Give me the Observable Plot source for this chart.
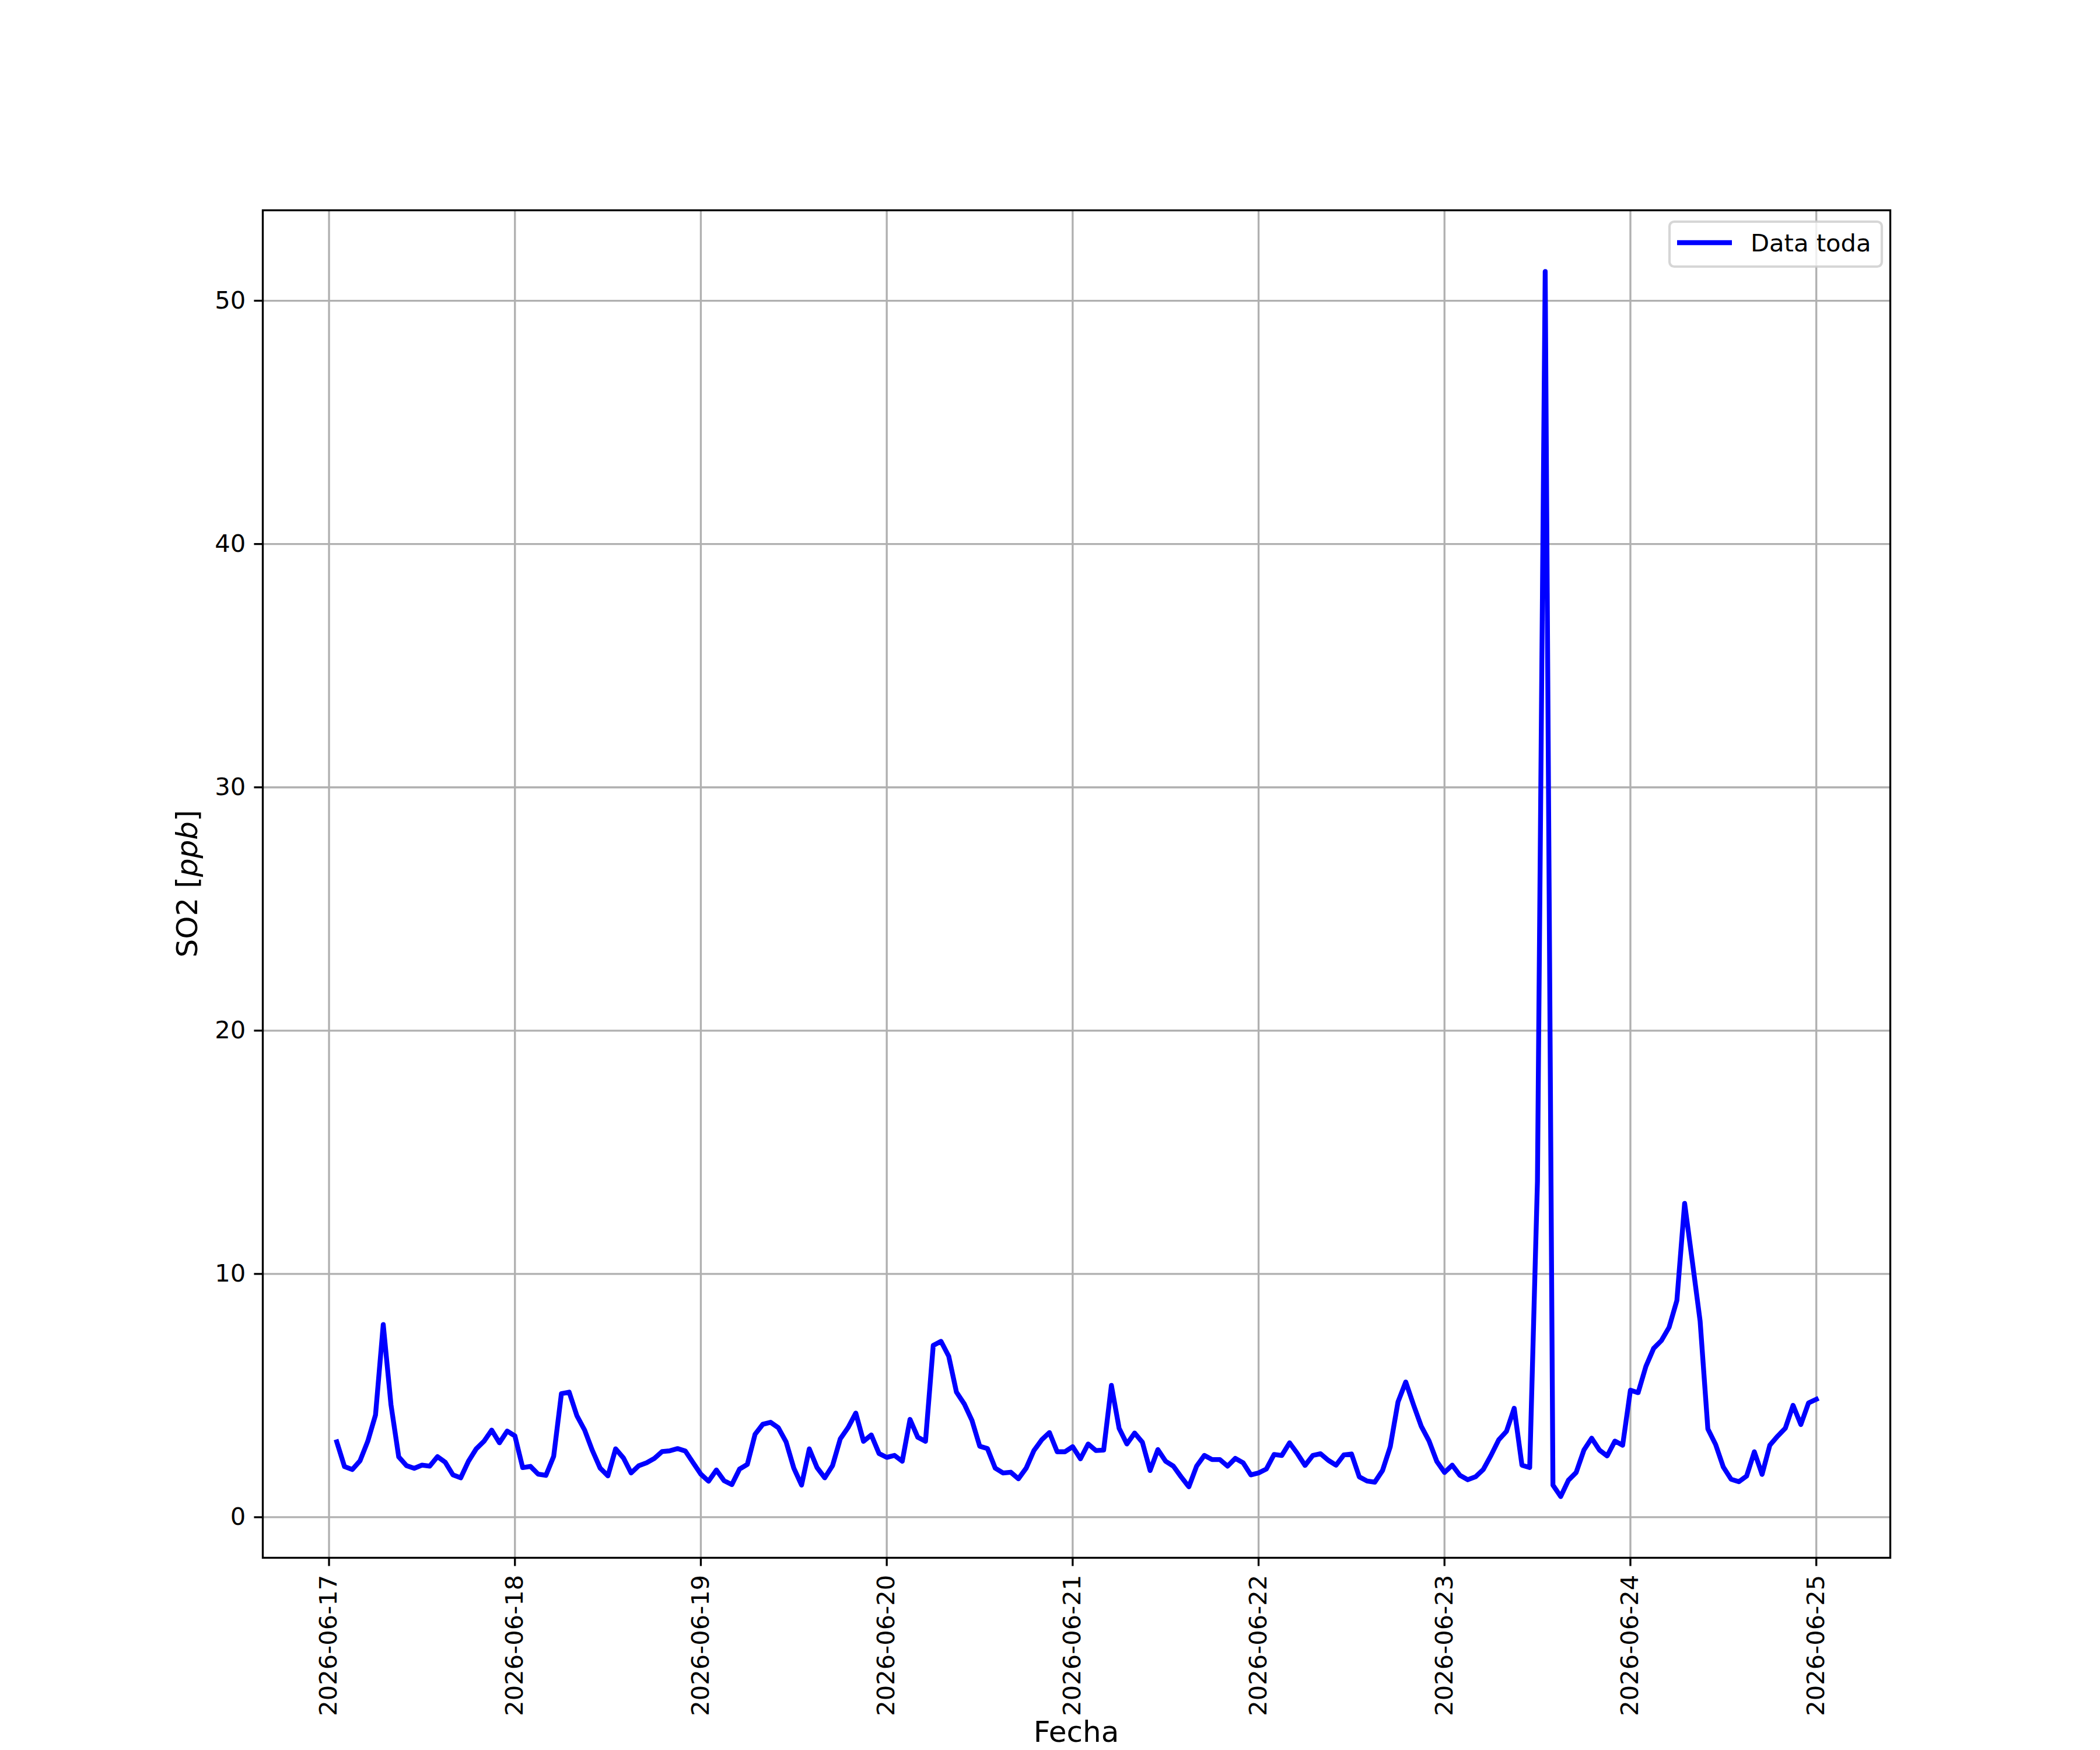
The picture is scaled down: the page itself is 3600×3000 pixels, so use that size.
<!DOCTYPE html>
<html>
<head>
<meta charset="utf-8">
<script src="https://cdn.jsdelivr.net/npm/d3@7"></script>
<script src="https://cdn.jsdelivr.net/npm/@observablehq/plot@0.6"></script>
<style>
  html, body { margin: 0; padding: 0; background: #ffffff; }
  #chart svg { display: block; }
</style>
</head>
<body>
<div id="chart"></div>
<script>
// ---- Data (hourly SO2 readings, ppb) ----
const seriesName = "Data toda";
const startTime = "2026-06-17T01:00:00Z"; // first hourly reading
const so2Day1 = [3.10, 2.08, 1.96, 2.32, 3.12, 4.20, 7.92, 4.62, 2.48, 2.12, 2.01, 2.14, 2.10, 2.49, 2.26, 1.74, 1.62, 2.30, 2.81, 3.12, 3.58, 3.06, 3.54, 3.34];
const so2Day2 = [2.04, 2.09, 1.77, 1.72, 2.50, 5.08, 5.14, 4.17, 3.58, 2.74, 2.02, 1.70, 2.81, 2.44, 1.82, 2.12, 2.24, 2.42, 2.70, 2.73, 2.82, 2.72, 2.24, 1.77];
const so2Day3 = [1.48, 1.94, 1.50, 1.34, 1.98, 2.17, 3.41, 3.82, 3.90, 3.68, 3.10, 2.02, 1.32, 2.81, 2.04, 1.62, 2.12, 3.22, 3.68, 4.28, 3.12, 3.38, 2.62, 2.46];
const so2Day4 = [2.54, 2.30, 4.02, 3.29, 3.12, 7.06, 7.23, 6.62, 5.14, 4.66, 3.98, 2.92, 2.82, 2.02, 1.82, 1.85, 1.58, 2.02, 2.74, 3.18, 3.48, 2.69, 2.69, 2.90];
const so2Day5 = [2.40, 3.01, 2.74, 2.76, 5.42, 3.65, 3.01, 3.46, 3.08, 1.92, 2.78, 2.30, 2.10, 1.66, 1.25, 2.10, 2.54, 2.37, 2.37, 2.10, 2.42, 2.24, 1.74, 1.82];
const so2Day6 = [1.98, 2.58, 2.54, 3.06, 2.62, 2.13, 2.54, 2.61, 2.34, 2.14, 2.56, 2.60, 1.66, 1.49, 1.44, 1.92, 2.90, 4.74, 5.56, 4.62, 3.74, 3.14, 2.30, 1.84];
const so2Day7 = [2.14, 1.72, 1.54, 1.66, 1.96, 2.54, 3.18, 3.53, 4.48, 2.14, 2.04, 13.8, 51.2, 1.32, 0.85, 1.52, 1.84, 2.76, 3.25, 2.76, 2.52, 3.13, 2.96, 5.22];
const so2Day8 = [5.12, 6.20, 6.94, 7.26, 7.81, 8.91, 12.9, 10.5, 8.06, 3.63, 2.99, 2.06, 1.56, 1.46, 1.69, 2.69, 1.76, 2.96, 3.33, 3.66, 4.60, 3.81, 4.70, 4.85];
const tickDates = ["2026-06-17", "2026-06-18", "2026-06-19", "2026-06-20", "2026-06-21", "2026-06-22", "2026-06-23", "2026-06-24", "2026-06-25"];
const yTicks = [0, 10, 20, 30, 40, 50];
const xLabel = "Fecha";
const yLabelParts = ["SO2 [", "ppb", "]"];

// ---- Build table ----
const values = [].concat(so2Day1, so2Day2, so2Day3, so2Day4, so2Day5, so2Day6, so2Day7, so2Day8);
const t0 = new Date(startTime).getTime();
const HOUR = 3600 * 1000;
const data = values.map((v, i) => ({date: new Date(t0 + i * HOUR), value: v}));
const tickDateObjs = tickDates.map(s => new Date(s + "T00:00:00Z"));

// matplotlib-like 5% margins
const xExt = d3.extent(data, d => d.date.getTime());
const xPad = (xExt[1] - xExt[0]) * 0.05;
const yExt = d3.extent(data, d => d.value);
const yPad = (yExt[1] - yExt[0]) * 0.05;

const W = 3600, H = 3000;
const mL = 450, mR = 360, mT = 360, mB = 330;
const fs = 41.67;     // 10pt @ 300dpi
const lw = 3.33;      // 0.8pt
const tick = 14.58;   // 3.5pt

const plot = Plot.plot({
  width: W,
  height: H,
  marginLeft: mL,
  marginRight: mR,
  marginTop: mT,
  marginBottom: mB,
  style: {fontFamily: "'DejaVu Sans', sans-serif", fontSize: fs + "px", background: "#ffffff", color: "#000000"},
  x: {type: "utc", domain: [new Date(xExt[0] - xPad), new Date(xExt[1] + xPad)]},
  y: {domain: [yExt[0] - yPad, yExt[1] + yPad]},
  marks: [
    Plot.gridX(tickDateObjs, {stroke: "#b0b0b0", strokeOpacity: 1, strokeWidth: lw}),
    Plot.gridY(yTicks, {stroke: "#b0b0b0", strokeOpacity: 1, strokeWidth: lw}),
    Plot.lineY(data, {x: "date", y: "value", stroke: "#0000ff", strokeWidth: 8.33, strokeLinejoin: "round", strokeLinecap: "square"}),
    Plot.axisX(tickDateObjs, {
      tickFormat: d3.utcFormat("%Y-%m-%d"),
      tickRotate: -90,
      textAnchor: "end",
      lineAnchor: "middle",
      tickSize: tick,
      tickPadding: tick,
      fontSize: fs,
      strokeWidth: lw,
      label: null
    }),
    Plot.axisY(yTicks, {
      tickFormat: d3.format("d"),
      tickSize: tick,
      tickPadding: tick,
      fontSize: fs,
      strokeWidth: lw,
      label: null
    }),
    Plot.frame({stroke: "#000000", strokeWidth: lw})
  ]
});

document.getElementById("chart").appendChild(plot);

// ---- Axis labels and legend (added to the same SVG) ----
const svg = d3.select(plot);
const frameRight = W - mR;
const frameTop = mT;
const frameCx = (mL + W - mR) / 2;
const frameCy = (mT + H - mB) / 2;

// x label
svg.append("text")
  .attr("x", frameCx)
  .attr("y", 2986)
  .attr("text-anchor", "middle")
  .attr("font-family", "'DejaVu Sans', sans-serif")
  .attr("font-size", 50)
  .attr("fill", "#000")
  .text(xLabel);

// y label with italic unit
const yl = svg.append("text")
  .attr("transform", `translate(338,${frameCy}) rotate(-90)`)
  .attr("text-anchor", "middle")
  .attr("font-family", "'DejaVu Sans', sans-serif")
  .attr("font-size", 50)
  .attr("fill", "#000");
yl.append("tspan").text(yLabelParts[0]);
yl.append("tspan").attr("font-style", "italic").text(yLabelParts[1]);
yl.append("tspan").text(yLabelParts[2]);

// legend
const lg = svg.append("g");
const boxX = frameRight - 378, boxY = frameTop + 20, boxW = 364, boxH = 77;
lg.append("rect")
  .attr("x", boxX).attr("y", boxY)
  .attr("width", boxW).attr("height", boxH)
  .attr("rx", 8).attr("ry", 8)
  .attr("fill", "#ffffff").attr("fill-opacity", 0.8)
  .attr("stroke", "#cccccc").attr("stroke-opacity", 0.8)
  .attr("stroke-width", 4.17);
lg.append("line")
  .attr("x1", boxX + 13).attr("x2", boxX + 107)
  .attr("y1", boxY + 36).attr("y2", boxY + 36)
  .attr("stroke", "#0000ff").attr("stroke-width", 8.33)
  .attr("stroke-linecap", "butt");
lg.append("text")
  .attr("x", boxX + 139).attr("y", boxY + 51)
  .attr("text-anchor", "start")
  .attr("font-family", "'DejaVu Sans', sans-serif")
  .attr("font-size", fs)
  .attr("fill", "#000")
  .text(seriesName);
</script>
</body>
</html>
